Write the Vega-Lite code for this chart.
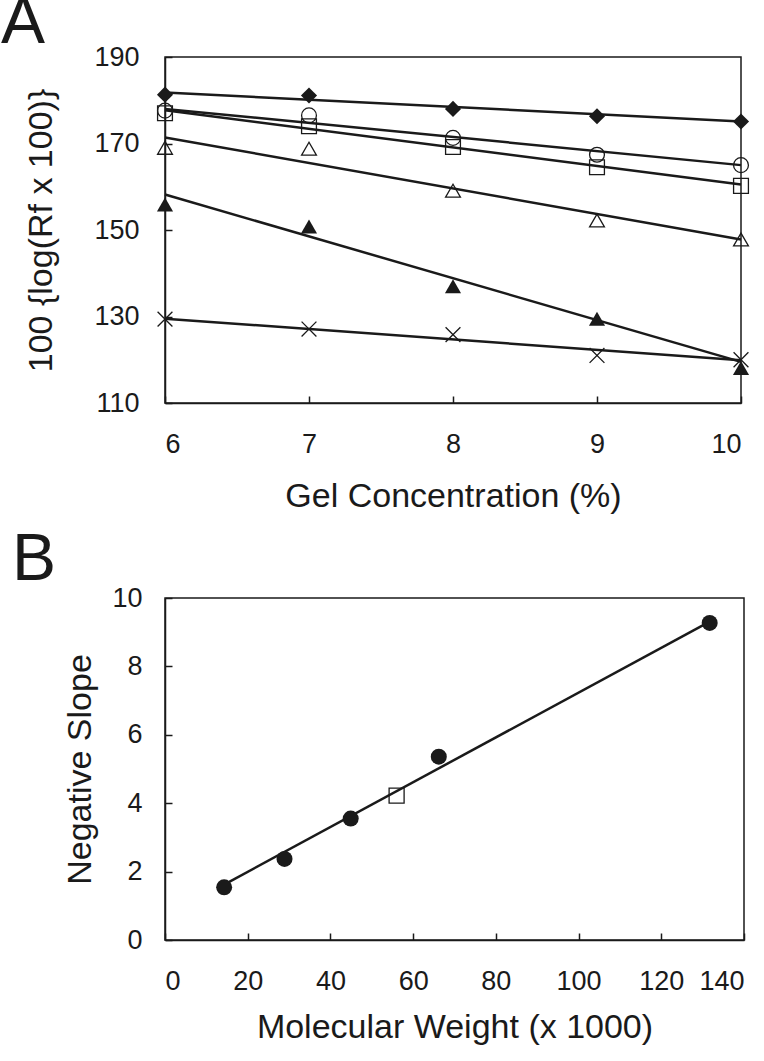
{
  "$schema": "https://vega.github.io/schema/vega-lite/v6.json",
  "background": "white",
  "padding": {"left": 0, "top": -11, "right": 10, "bottom": 5},
  "bounds": "flush",
  "spacing": 195,
  "config": {
    "font": "Liberation Sans",
    "view": {"stroke": "#1a1a1a", "strokeWidth": 1.5},
    "axis": {
      "domainColor": "#1a1a1a", "domainWidth": 1.5,
      "tickColor": "#1a1a1a", "tickWidth": 1.5, "tickSize": -7,
      "labelFontSize": 27, "labelColor": "#1a1a1a", "labelFont": "Liberation Sans",
      "titleFontSize": 34, "titleFontWeight": "normal", "titleColor": "#1a1a1a", "titleFont": "Liberation Sans",
      "grid": false
    },
    "title": {"fontSize": 66, "fontWeight": "normal", "color": "#1a1a1a", "anchor": "start", "frame": "group", "baseline": "alphabetic"}
  },
  "datasets": {
    "gel": [
      {"series": "filled diamond", "conc": 6, "value": 181.3},
      {"series": "filled diamond", "conc": 7, "value": 181.1},
      {"series": "filled diamond", "conc": 8, "value": 178.0},
      {"series": "filled diamond", "conc": 9, "value": 176.3},
      {"series": "filled diamond", "conc": 10, "value": 175.1},
      {"series": "open circle", "conc": 6, "value": 177.6},
      {"series": "open circle", "conc": 7, "value": 176.5},
      {"series": "open circle", "conc": 8, "value": 171.3},
      {"series": "open circle", "conc": 9, "value": 167.4},
      {"series": "open circle", "conc": 10, "value": 165.0},
      {"series": "open square", "conc": 6, "value": 177.0},
      {"series": "open square", "conc": 7, "value": 174.0},
      {"series": "open square", "conc": 8, "value": 169.2},
      {"series": "open square", "conc": 9, "value": 164.5},
      {"series": "open square", "conc": 10, "value": 160.2},
      {"series": "open triangle", "conc": 6, "value": 169.0},
      {"series": "open triangle", "conc": 7, "value": 168.8},
      {"series": "open triangle", "conc": 8, "value": 159.1},
      {"series": "open triangle", "conc": 9, "value": 152.2},
      {"series": "open triangle", "conc": 10, "value": 147.8},
      {"series": "filled triangle", "conc": 6, "value": 155.9},
      {"series": "filled triangle", "conc": 7, "value": 150.8},
      {"series": "filled triangle", "conc": 8, "value": 137.0},
      {"series": "filled triangle", "conc": 9, "value": 129.5},
      {"series": "filled triangle", "conc": 10, "value": 118.1},
      {"series": "cross", "conc": 6, "value": 129.4},
      {"series": "cross", "conc": 7, "value": 127.1},
      {"series": "cross", "conc": 8, "value": 125.8},
      {"series": "cross", "conc": 9, "value": 121.0},
      {"series": "cross", "conc": 10, "value": 120.0}
    ],
    "gelfit": [
      {"series": "filled diamond", "conc": 6, "value": 181.8},
      {"series": "filled diamond", "conc": 10, "value": 175.1},
      {"series": "open circle", "conc": 6, "value": 178.0},
      {"series": "open circle", "conc": 10, "value": 165.0},
      {"series": "open square", "conc": 6, "value": 177.7},
      {"series": "open square", "conc": 10, "value": 160.5},
      {"series": "open triangle", "conc": 6, "value": 171.4},
      {"series": "open triangle", "conc": 10, "value": 147.8},
      {"series": "filled triangle", "conc": 6, "value": 158.2},
      {"series": "filled triangle", "conc": 10, "value": 119.5},
      {"series": "cross", "conc": 6, "value": 129.5},
      {"series": "cross", "conc": 10, "value": 119.9}
    ],
    "mw": [
      {"group": "standard", "mw": 14.3, "slope": 1.54},
      {"group": "standard", "mw": 28.9, "slope": 2.37},
      {"group": "standard", "mw": 44.9, "slope": 3.55},
      {"group": "standard", "mw": 66.2, "slope": 5.36},
      {"group": "standard", "mw": 131.7, "slope": 9.27},
      {"group": "unknown", "mw": 56.0, "slope": 4.22}
    ],
    "mwfit": [
      {"mw": 14.3, "slope": 1.62},
      {"mw": 131.7, "slope": 9.31}
    ]
  },
  "vconcat": [
    {
      "width": 576,
      "height": 346,
      "title": {"text": "A", "dx": -164, "offset": -14},
      "layer": [
        {
          "data": {"name": "gelfit"},
          "mark": {"type": "line", "color": "#1a1a1a", "strokeWidth": 2.5},
          "encoding": {
            "x": {"field": "conc", "type": "quantitative"},
            "y": {"field": "value", "type": "quantitative"},
            "detail": {"field": "series"}
          }
        },
        {
          "data": {"name": "gel"},
          "transform": [{"filter": {"field": "series", "oneOf": ["filled diamond", "filled triangle"]}}],
          "mark": {"type": "point", "filled": true, "color": "#1a1a1a", "size": 260, "opacity": 1},
          "encoding": {
            "x": {"field": "conc", "type": "quantitative"},
            "y": {"field": "value", "type": "quantitative"},
            "shape": {"field": "series", "type": "nominal", "legend": null,
              "scale": {"domain": ["filled diamond", "open circle", "open square", "open triangle", "filled triangle", "cross"],
                        "range": ["diamond", "circle", "square", "triangle-up", "triangle-up", "M-1,-1L1,1M-1,1L1,-1"]}}
          }
        },
        {
          "data": {"name": "gel"},
          "transform": [{"filter": {"field": "series", "oneOf": ["open circle", "open square", "open triangle", "cross"]}}],
          "mark": {"type": "point", "filled": false, "color": "#1a1a1a", "size": 220, "strokeWidth": 1.3, "opacity": 1},
          "encoding": {
            "x": {"field": "conc", "type": "quantitative", "scale": {"domain": [6, 10], "nice": false},
              "axis": {"values": [6, 7, 8, 9, 10], "format": "d", "labelPadding": 35, "title": "Gel Concentration (%)", "titlePadding": 22}},
            "y": {"field": "value", "type": "quantitative", "scale": {"domain": [110, 190], "nice": false, "zero": false},
              "axis": {"values": [110, 130, 150, 170, 190], "labelPadding": 33, "title": "100 {log(Rf x 100)}", "titlePadding": 35}},
            "shape": {"field": "series", "type": "nominal", "legend": null}
          }
        }
      ]
    },
    {
      "width": 579,
      "height": 342,
      "title": {"text": "B", "dx": -153, "offset": -10},
      "layer": [
        {
          "data": {"name": "mwfit"},
          "mark": {"type": "line", "color": "#1a1a1a", "strokeWidth": 2.5},
          "encoding": {
            "x": {"field": "mw", "type": "quantitative"},
            "y": {"field": "slope", "type": "quantitative"}
          }
        },
        {
          "data": {"name": "mw"},
          "transform": [{"filter": {"field": "group", "equal": "standard"}}],
          "mark": {"type": "point", "filled": true, "shape": "circle", "color": "#1a1a1a", "size": 256, "opacity": 1},
          "encoding": {
            "x": {"field": "mw", "type": "quantitative"},
            "y": {"field": "slope", "type": "quantitative"}
          }
        },
        {
          "data": {"name": "mw"},
          "transform": [{"filter": {"field": "group", "equal": "unknown"}}],
          "mark": {"type": "point", "filled": false, "shape": "square", "color": "#1a1a1a", "size": 225, "strokeWidth": 1.3, "opacity": 1},
          "encoding": {
            "x": {"field": "mw", "type": "quantitative", "scale": {"domain": [0, 140], "nice": false},
              "axis": {"values": [0, 20, 40, 60, 80, 100, 120, 140], "labelPadding": 35, "title": "Molecular Weight (x 1000)", "titlePadding": 16}},
            "y": {"field": "slope", "type": "quantitative", "scale": {"domain": [0, 10], "nice": false},
              "axis": {"values": [0, 2, 4, 6, 8, 10], "labelPadding": 30, "title": "Negative Slope", "titlePadding": 14}}
          }
        }
      ]
    }
  ]
}
